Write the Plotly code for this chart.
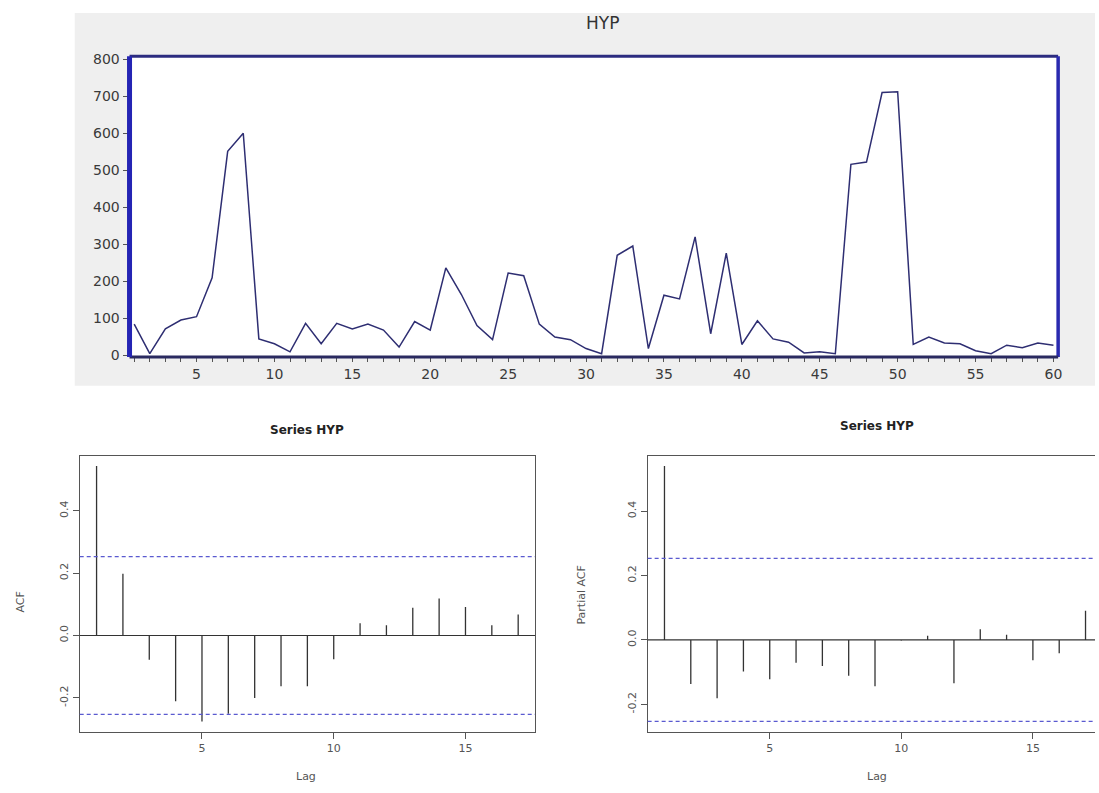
import plotly.graph_objects as go

# ---------------- data ----------------
time_index = list(range(1, 61))
hyp_values = [84, 4, 71, 95, 104, 209, 551, 600, 44, 31,
              9, 86, 31, 86, 71, 84, 68, 22, 91, 68,
              236, 164, 80, 42, 222, 215, 84, 49, 42, 18,
              4, 270, 295, 18, 162, 152, 320, 58, 276, 29,
              93, 44, 35, 6, 9, 4, 516, 522, 710, 712,
              29, 49, 33, 31, 12, 4, 27, 20, 33, 27]

lags = list(range(1, 18))
acf_values = [0.544, 0.198, -0.078, -0.211, -0.276, -0.251, -0.201, -0.163, -0.163,
              -0.076, 0.039, 0.033, 0.089, 0.119, 0.091, 0.033, 0.067]
pacf_values = [0.540, -0.137, -0.181, -0.098, -0.122, -0.071, -0.081, -0.111, -0.144,
               -0.002, 0.013, -0.134, 0.033, 0.016, -0.063, -0.041, 0.091]
conf_limit = 0.253

top_yticks = [0, 100, 200, 300, 400, 500, 600, 700, 800]
top_xlabels = [5, 10, 15, 20, 25, 30, 35, 40, 45, 50, 55, 60]
acf_yticks = [-0.2, 0.0, 0.2, 0.4]
acf_xticks = [5, 10, 15]

W, H = 1099, 793
def px(x):
    return x / W
def py(y):
    return 1 - y / H

fig = go.Figure()

# ---------- top time series ----------
fig.add_trace(go.Scatter(x=time_index, y=hyp_values, mode="lines",
                         line=dict(color="#2e2e72", width=1.5),
                         xaxis="x", yaxis="y", showlegend=False, hoverinfo="x+y"))

def stems(xs, ys):
    sx, sy = [], []
    for a, b in zip(xs, ys):
        sx += [a, a, None]
        sy += [0, b, None]
    return sx, sy

sx, sy = stems(lags, acf_values)
fig.add_trace(go.Scatter(x=sx, y=sy, mode="lines", line=dict(color="#333333", width=1.3),
                         xaxis="x2", yaxis="y2", showlegend=False, hoverinfo="skip"))
sx, sy = stems(lags, pacf_values)
fig.add_trace(go.Scatter(x=sx, y=sy, mode="lines", line=dict(color="#333333", width=1.3),
                         xaxis="x3", yaxis="y3", showlegend=False, hoverinfo="skip"))

tick_font = dict(family="DejaVu Sans, Verdana, sans-serif", size=14, color="#3a3a3a")
small_font = dict(family="DejaVu Sans, Verdana, sans-serif", size=11, color="#555555")

x_tickvals = time_index
x_ticktext = [str(v) if v in top_xlabels else "" for v in time_index]

fig.update_layout(
    width=W, height=H,
    margin=dict(l=0, r=0, t=0, b=0),
    paper_bgcolor="white",
    plot_bgcolor="white",
    xaxis=dict(domain=[px(130), px(1062)], range=[0.7, 60.3], anchor="y",
               tickvals=x_tickvals, ticktext=x_ticktext, ticks="outside", ticklen=4,
               tickcolor="#555555", tickfont=tick_font, showgrid=False, zeroline=False,
               showline=False, fixedrange=True),
    yaxis=dict(domain=[py(357), py(52)], range=[-5, 808], anchor="x",
               tickvals=top_yticks, ticks="outside", ticklen=6, tickcolor="#555555",
               tickfont=tick_font, showgrid=False, zeroline=False, showline=False,
               fixedrange=True),
    xaxis2=dict(domain=[px(80), px(537)], range=[0.36, 17.64], anchor="y2",
                tickvals=acf_xticks, ticks="outside", ticklen=6, tickcolor="#555555",
                tickfont=small_font, showgrid=False, zeroline=False,
                showline=True, linecolor="#555555", linewidth=1, mirror=True),
    yaxis2=dict(domain=[py(737), py(457)], range=[-0.309, 0.577], anchor="x2",
                tickvals=acf_yticks, ticktext=["-0.2", "0.0", "0.2", "0.4"],
                ticks="outside", ticklen=6, tickcolor="#555555", tickangle=-90,
                tickfont=small_font, showgrid=False, zeroline=False,
                showline=True, linecolor="#555555", linewidth=1, mirror=True),
    xaxis3=dict(domain=[px(650), 1.0], range=[0.36, 17.36], anchor="y3",
                tickvals=acf_xticks, ticks="outside", ticklen=6, tickcolor="#555555",
                tickfont=small_font, showgrid=False, zeroline=False,
                showline=True, linecolor="#555555", linewidth=1, mirror=True),
    yaxis3=dict(domain=[py(737), py(457)], range=[-0.285, 0.572], anchor="x3",
                tickvals=acf_yticks, ticktext=["-0.2", "0.0", "0.2", "0.4"],
                ticks="outside", ticklen=6, tickcolor="#555555", tickangle=-90,
                tickfont=small_font, showgrid=False, zeroline=False,
                showline=True, linecolor="#555555", linewidth=1, mirror=False),
)

shapes = []
# gray panel behind top chart
shapes.append(dict(type="rect", xref="paper", yref="paper", x0=px(75), x1=1.0,
                   y0=py(386), y1=py(8), fillcolor="#efefef", line=dict(width=0),
                   layer="below"))
# white plot area of the top chart
shapes.append(dict(type="rect", xref="x domain", yref="y domain", x0=0, x1=1, y0=0, y1=1,
                   fillcolor="white", line=dict(width=0), layer="below"))
# frame of top chart
shapes.append(dict(type="line", xref="x domain", yref="y domain", x0=0, x1=1, y0=1, y1=1,
                   line=dict(color="#2c2c80", width=3)))
shapes.append(dict(type="line", xref="x domain", yref="y domain", x0=1, x1=1, y0=0, y1=1,
                   line=dict(color="#2a2ab0", width=3.5)))
shapes.append(dict(type="line", xref="x domain", yref="y domain", x0=0, x1=1, y0=0, y1=0,
                   line=dict(color="#2a2a60", width=3)))
shapes.append(dict(type="line", xref="x domain", yref="y domain", x0=0, x1=0, y0=0, y1=1,
                   line=dict(color="#2424b4", width=5)))
# zero lines and confidence bands
for xr, yr in (("x2", "y2"), ("x3", "y3")):
    shapes.append(dict(type="line", xref=xr + " domain", yref=yr, x0=0, x1=1, y0=0, y1=0,
                       line=dict(color="#333333", width=1.2)))
    for c in (conf_limit, -conf_limit):
        shapes.append(dict(type="line", xref=xr + " domain", yref=yr, x0=0, x1=1, y0=c, y1=c,
                           line=dict(color="#5a5ad0", width=1.2, dash="4px,3px")))
fig.update_layout(shapes=shapes)

def ann(text, x, y, font, angle=0):
    return dict(text=text, x=px(x), y=py(y), xref="paper", yref="paper", showarrow=False,
                xanchor="center", yanchor="middle", textangle=angle, font=font)

title_font_bottom = dict(family="DejaVu Sans, Verdana, sans-serif", size=12, color="#222222")
annotations = [
    ann("HYP", 605, 18, dict(family="DejaVu Sans, Verdana, sans-serif", size=17, color="#333333")),
    ann("<b>Series HYP</b>", 308, 431, title_font_bottom),
    ann("<b>Series HYP</b>", 880, 427, title_font_bottom),
    ann("Lag", 307, 782, small_font),
    ann("Lag", 880, 782, small_font),
    ann("ACF", 21, 605, small_font, -90),
    ann("Partial ACF", 584, 598, small_font, -90),
]
fig.update_layout(annotations=annotations)

fig.write_html("out.html", config={"displayModeBar": False},
               post_script="document.body.style.margin='0';document.body.style.overflow='hidden';")
